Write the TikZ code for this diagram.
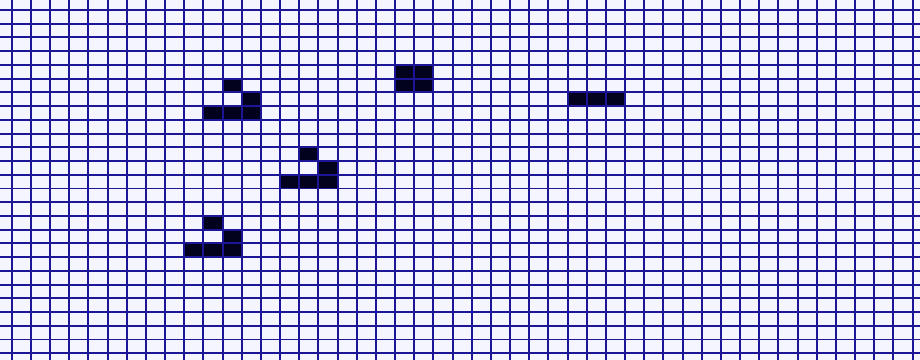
\documentclass[tikz,border=0pt]{standalone}
\usepackage{xcolor}
\usepackage{tikz}
\definecolor{gridblue}{RGB}{28,22,150}
\definecolor{livecell}{RGB}{2,2,30}
\definecolor{deadcell}{RGB}{244,245,255}

\begin{document}
\begin{tikzpicture}[x=0.38333cm,y=-0.27460cm,
  gridline/.style={draw=gridblue,line width=1.1pt},
  alive/.style={fill=livecell}]
  % background and bounding box
  \fill[deadcell] (-0.6104,-0.7283) rectangle (47.3896,25.4898);
  \useasboundingbox (-0.6104,-0.7283) rectangle (47.3896,25.4898);
  % live cells: three gliders, a block, a blinker
  \foreach \c/\r in {11/5,12/6,10/7,11/7,12/7,
                     15/10,16/11,14/12,15/12,16/12,
                     10/15,11/16,9/17,10/17,11/17,
                     20/4,21/4,20/5,21/5,
                     29/6,30/6,31/6}
    \fill[alive] (\c,\r) rectangle ++(1,1);
  % grid lines
  \foreach \i in {0,...,47}
    \draw[gridline] (\i,-0.7283) -- (\i,25.4898);
  \foreach \j in {0,...,25}
    \draw[gridline] (-0.6104,\j) -- (47.3896,\j);
\end{tikzpicture}
\end{document}
